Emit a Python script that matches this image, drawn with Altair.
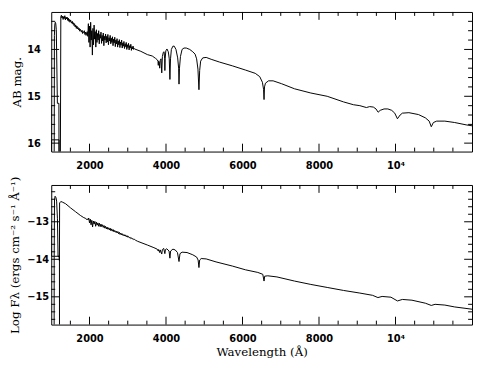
import altair as alt
import pandas as pd

# ---------------- data ----------------
# Top panel (AB mag): far-UV edge / Ly-alpha region, drawn in path order
top_edge_lam = [1000, 1000, 1006, 1205, 1207, 1075, 1078, 1082, 1092, 1105, 1118, 1132,
                1160, 1200, 1203, 1238, 1250]
top_edge_mag = [15.20, 16.50, 15.93, 15.93, 16.50, 16.50, 15.93, 13.70, 13.48, 13.42, 13.45, 13.58,
                15.15, 15.15, 16.50, 16.50, 13.30]

top_noise_lam = [1265, 1280, 1295, 1310, 1325, 1340, 1355, 1370, 1385,
                 1400, 1415, 1430, 1445, 1460, 1475, 1490, 1505, 1520, 1535,
                 1550, 1565, 1580, 1595, 1610, 1625, 1640, 1655, 1670, 1685,
                 1700, 1715, 1730, 1745, 1760, 1775, 1790, 1805, 1820, 1835,
                 1850, 1865, 1880, 1895, 1910, 1925, 1940, 1955, 1970, 1985,
                 2000, 2015, 2030, 2045, 2060, 2075, 2090, 2105, 2120, 2135,
                 2150, 2165, 2180, 2195, 2210, 2225, 2240, 2255, 2270, 2285,
                 2300, 2315, 2330, 2345, 2360, 2375, 2390, 2405, 2420, 2435,
                 2450, 2465, 2480, 2495, 2510, 2525, 2540, 2555, 2570, 2585,
                 2600, 2615, 2630, 2645, 2660, 2675, 2690, 2705, 2720, 2735,
                 2750, 2765, 2780, 2795, 2810, 2825, 2840, 2855, 2870, 2885,
                 2900, 2915, 2930, 2945, 2960, 2975, 2990, 3005, 3020, 3035,
                 3050, 3065, 3080, 3095, 3110, 3125, 3140, 3155, 3170]
top_noise_mag = [13.27, 13.33, 13.29, 13.36, 13.30, 13.34, 13.28, 13.37, 13.31,
                 13.35, 13.31, 13.38, 13.33, 13.40, 13.36, 13.42, 13.37, 13.41, 13.44,
                 13.40, 13.46, 13.43, 13.49, 13.45, 13.52, 13.48, 13.55, 13.50, 13.56,
                 13.53, 13.58, 13.55, 13.61, 13.57, 13.60, 13.63, 13.59, 13.66, 13.62,
                 13.64, 13.60, 13.68, 13.63, 13.70, 13.65, 13.62, 13.72, 13.45, 13.85,
                 13.50, 13.95, 13.42, 13.80, 13.60, 14.12, 13.55, 13.90, 13.48, 13.78,
                 13.62, 13.95, 13.58, 13.85, 13.66, 13.80, 13.60, 13.88, 13.68, 13.76,
                 13.63, 13.87, 13.70, 13.82, 13.65, 13.92, 13.72, 13.80, 13.67, 13.86,
                 13.72, 13.84, 13.68, 13.90, 13.75, 13.82, 13.70, 13.88, 13.76, 13.85,
                 13.73, 13.92, 13.78, 13.86, 13.74, 13.94, 13.80, 13.88, 13.77, 13.95,
                 13.82, 13.90, 13.79, 13.96, 13.84, 13.91, 13.80, 13.97, 13.86, 13.93,
                 13.83, 13.98, 13.88, 13.94, 13.85, 14.00, 13.90, 13.96, 13.87, 14.01,
                 13.92, 13.97, 13.89, 14.02, 13.94, 13.99, 13.93, 14.00, 13.98]

top_cont_lam = [3180, 3342, 3513, 3641, 3726, 3770, 3790, 3798, 3806, 3822,
                3835, 3848, 3870, 3889, 3905, 3930, 3950, 3965, 3970, 3978,
                3995, 4025, 4060, 4085, 4102, 4118, 4140, 4180, 4215, 4260,
                4305, 4330, 4340, 4352, 4378, 4420, 4470, 4530, 4620, 4700,
                4760, 4800, 4835, 4861, 4880, 4905, 4960, 5050, 5180, 5400,
                5735, 6077, 6333, 6450, 6520, 6550, 6563, 6575, 6600, 6680,
                6800, 7017, 7359, 7786, 8214, 8641, 8900, 9068, 9239, 9324,
                9420, 9490, 9545, 9600, 9700, 9800, 9900, 9980, 10050, 10120,
                10180, 10350, 10600, 10780, 10880, 10935, 10990, 11076, 11290, 11547,
                11846, 12000]
top_cont_mag = [13.99, 14.04, 14.11, 14.14, 14.19, 14.22, 14.25, 14.34, 14.25, 14.26,
                14.40, 14.24, 14.20, 14.50, 14.15, 14.06, 14.05, 14.20, 14.45, 14.20,
                14.03, 13.99, 14.05, 14.20, 14.64, 14.20, 14.00, 13.93, 13.93, 14.00,
                14.18, 14.40, 14.74, 14.40, 14.15, 14.00, 13.97, 13.97, 14.00, 14.05,
                14.10, 14.20, 14.42, 14.86, 14.45, 14.25, 14.18, 14.17, 14.21, 14.27,
                14.35, 14.44, 14.51, 14.58, 14.70, 14.85, 15.07, 14.80, 14.72, 14.67,
                14.67, 14.73, 14.84, 14.93, 15.00, 15.12, 15.18, 15.20, 15.24, 15.22,
                15.23, 15.27, 15.34, 15.30, 15.27, 15.27, 15.30, 15.36, 15.48, 15.40,
                15.36, 15.35, 15.39, 15.46, 15.53, 15.65, 15.56, 15.53, 15.53, 15.56,
                15.61, 15.63]

# Bottom panel (log F_lambda)
bot_edge_lam = [1000, 1001, 1008, 1214, 1216, 1075, 1077, 1085, 1100, 1125,
                1140, 1162, 1178, 1205, 1214, 1218, 1250, 1300, 1376, 1504,
                1632, 1760, 1850]
bot_edge_val = [-13.08, -13.67, -13.92, -13.92, -16.50, -16.50, -13.92, -12.42, -12.32, -12.36,
                -12.45, -12.92, -13.92, -13.92, -14.04, -12.50, -12.46, -12.48, -12.52, -12.63,
                -12.73, -12.83, -12.89]

bot_noise_lam = [1900, 1920, 1940, 1960, 1980, 2000, 2020, 2040, 2060, 2080,
                 2100, 2120, 2140, 2160, 2180, 2200, 2220, 2240, 2260, 2280,
                 2300, 2320, 2340, 2360, 2380, 2400, 2420, 2440, 2460, 2480,
                 2500, 2520, 2540, 2560, 2580, 2600, 2620, 2640, 2660, 2680,
                 2700, 2720, 2740, 2760, 2780, 2800, 2820, 2840, 2860, 2880,
                 2900, 2920, 2940, 2960, 2980, 3000, 3020, 3040, 3060, 3080,
                 3100, 3120, 3140, 3160, 3180, 3200]
bot_noise_val = [-12.91, -12.94, -12.92, -12.95, -12.90, -13.03, -12.93, -13.08, -12.96, -13.14,
                 -12.98, -13.06, -12.99, -13.12, -13.01, -13.09, -13.03, -13.12, -13.04, -13.13,
                 -13.06, -13.13, -13.08, -13.15, -13.10, -13.17, -13.12, -13.19, -13.14, -13.20,
                 -13.16, -13.22, -13.17, -13.24, -13.19, -13.25, -13.21, -13.27, -13.23, -13.28,
                 -13.25, -13.30, -13.26, -13.32, -13.28, -13.34, -13.30, -13.35, -13.32, -13.37,
                 -13.34, -13.38, -13.35, -13.40, -13.37, -13.41, -13.39, -13.43, -13.41, -13.45,
                 -13.43, -13.46, -13.45, -13.48, -13.47, -13.49]

bot_cont_lam = [3256, 3513, 3684, 3770, 3798, 3806, 3835, 3848, 3889, 3905,
                3940, 3970, 3985, 4020, 4080, 4102, 4120, 4180, 4240, 4300,
                4340, 4365, 4420, 4550, 4700, 4800, 4840, 4861, 4880, 4920,
                5050, 5308, 5735, 6077, 6400, 6530, 6563, 6580, 6660, 6900,
                7359, 7786, 8214, 8641, 9068, 9400, 9540, 9650, 9880, 10051,
                10179, 10430, 10780, 10935, 11034, 11290, 11547, 12000]
bot_cont_val = [-13.52, -13.62, -13.69, -13.73, -13.78, -13.74, -13.82, -13.75, -13.86, -13.74,
                -13.71, -13.85, -13.74, -13.72, -13.78, -13.97, -13.78, -13.73, -13.75, -13.82,
                -14.06, -13.85, -13.81, -13.82, -13.88, -13.94, -14.02, -14.22, -14.02, -13.98,
                -13.99, -14.07, -14.18, -14.28, -14.35, -14.40, -14.58, -14.45, -14.44, -14.47,
                -14.58, -14.67, -14.75, -14.83, -14.90, -14.96, -15.02, -14.99, -15.01, -15.11,
                -15.07, -15.09, -15.17, -15.23, -15.20, -15.22, -15.27, -15.33]

# tick values
x_label_values = [2000, 4000, 6000, 8000, 10000]
x_minor_values = [1500, 2500, 3000, 3500, 4500, 5000, 5500, 6500, 7000, 7500,
                  8500, 9000, 9500, 10500, 11000, 11500]
top_major = [14, 15, 16]
top_minor = [13.4, 13.6, 13.8, 14.2, 14.4, 14.6, 14.8, 15.2, 15.4, 15.6, 15.8]
bot_major = [-13, -14, -15]
bot_minor = [-12.2, -12.4, -12.6, -12.8, -13.2, -13.4, -13.6, -13.8, -14.2, -14.4,
             -14.6, -14.8, -15.2, -15.4, -15.6]

top_domain = [13.2, 16.18]
bot_domain = [-15.74, -12.02]
x_domain = [1000, 12000]

W = 428
H_TOP = 142
H_BOT = 142
MAJ = 8
MIN = 4


def series(lams, vals):
    lam = list(lams)
    val = list(vals)
    return pd.DataFrame({"lam": lam, "val": val, "i": list(range(len(lam)))})


df_top = series(top_edge_lam + top_noise_lam + top_cont_lam,
                top_edge_mag + top_noise_mag + top_cont_mag)
df_bot = series(bot_edge_lam + bot_noise_lam + bot_cont_lam,
                bot_edge_val + bot_noise_val + bot_cont_val)


def panel(df, ydom, reverse, ytitle, y_major, y_minor, height, xtitle, title_x):
    xs = alt.Scale(domain=x_domain, nice=False, zero=False)
    ys = alt.Scale(domain=ydom, nice=False, zero=False, reverse=reverse)
    x_axis = alt.Axis(values=x_label_values,
                      labelExpr="datum.value == 10000 ? '10⁴' : format(datum.value, 'd')",
                      labelPadding=9, tickSize=0, labelFlush=False, labelOverlap=False,
                      title=xtitle if xtitle else "", titlePadding=3)
    y_axis = alt.Axis(values=y_major, format="d", title=ytitle, labelAlign="left",
                      labelPadding=25, tickSize=0, labelFlush=False, labelOverlap=False,
                      titleAngle=270, titleX=title_x, titleY=height / 2,
                      titleAlign="center", titleBaseline="alphabetic")

    def xenc():
        return alt.X("lam:Q", scale=xs, axis=x_axis)

    def yenc():
        return alt.Y("val:Q", scale=ys, axis=y_axis)

    line = alt.Chart(df).mark_line(color="black", strokeWidth=1, clip=True).encode(
        x=xenc(), y=yenc(), order=alt.Order("i:Q"),
    )

    layers = [line]
    for vals, ln in ((x_label_values, MAJ), (x_minor_values, MIN)):
        d = pd.DataFrame({"lam": vals})
        layers.append(alt.Chart(d).mark_rule(color="black", strokeWidth=1).encode(
            x=xenc(), y=alt.value(0), y2=alt.value(ln)))
        layers.append(alt.Chart(d).mark_rule(color="black", strokeWidth=1).encode(
            x=xenc(), y=alt.value(height), y2=alt.value(height - ln)))
    for vals, ln in ((y_major, MAJ), (y_minor, MIN)):
        d = pd.DataFrame({"val": vals})
        layers.append(alt.Chart(d).mark_rule(color="black", strokeWidth=1).encode(
            y=yenc(), x=alt.value(0), x2=alt.value(ln)))
        layers.append(alt.Chart(d).mark_rule(color="black", strokeWidth=1).encode(
            y=yenc(), x=alt.value(W), x2=alt.value(W - ln)))

    return alt.layer(*layers).properties(width=W, height=height)


top = panel(df_top, top_domain, True, "AB mag.", top_major, top_minor, H_TOP, None, -31)
bot = panel(df_bot, bot_domain, False, "Log Fλ (ergs cm⁻² s⁻¹ Å⁻¹)", bot_major, bot_minor,
            H_BOT, "Wavelength (Å)", -33)

chart = alt.vconcat(top, bot, spacing=34, bounds="flush").properties(
    padding=0, background="white"
).configure_view(
    stroke="black", strokeWidth=1
).configure_axis(
    grid=False, ticks=False, domain=False,
    labelFont="DejaVu Sans", labelFontSize=10, labelFontWeight="bold", labelColor="black",
    titleFont="DejaVu Serif", titleFontSize=12, titleFontWeight="normal", titleColor="black",
)

chart.save("out.html", embed_options={"renderer": "svg", "actions": False})
